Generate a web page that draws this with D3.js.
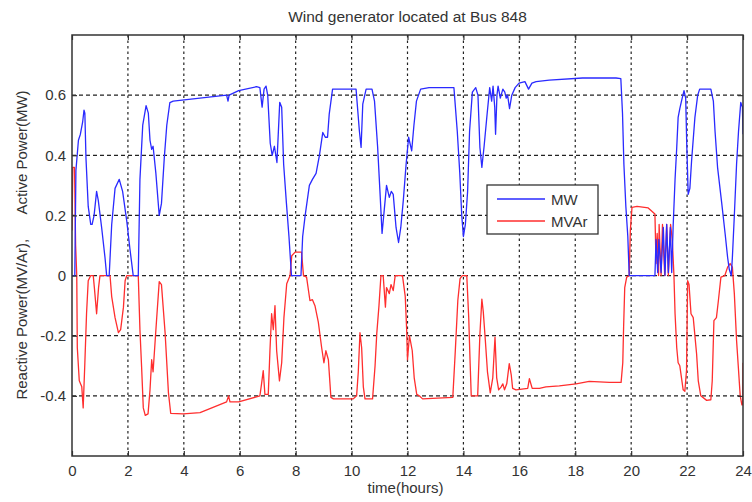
<!DOCTYPE html>
<html>
<head>
<meta charset="utf-8">
<script src="https://cdn.jsdelivr.net/npm/d3@7"></script>
<style>
  html, body { margin: 0; padding: 0; background: #ffffff; }
  svg { display: block; }
  text { font-family: "Liberation Sans", Arial, sans-serif; fill: #333; }
</style>
</head>
<body>
<svg id="chart" width="752" height="502"></svg>
<script>
// ---- data ----
const xTicks = [0, 2, 4, 6, 8, 10, 12, 14, 16, 18, 20, 22, 24];
const yTicks = [-0.4, -0.2, 0, 0.2, 0.4, 0.6];
const seriesNames = ["MW", "MVAr"];

const mwTime = [0,0.1,0.14,0.23,0.3,0.38,0.43,0.46,0.5,0.58,0.67,0.72,0.79,0.88,0.94,1.06,1.18,1.24,1.33,1.42,1.54,1.69,1.81,1.96,2.07,2.19,2.37,2.43,2.53,2.65,2.73,2.79,2.85,2.9,3.0,3.12,3.2,3.3,3.39,3.5,3.62,5.53,5.58,5.62,5.96,6.6,6.72,6.8,6.87,6.94,7.0,7.09,7.16,7.24,7.33,7.43,7.5,7.57,7.67,7.76,7.85,8.19,8.25,8.34,8.49,8.6,8.73,8.85,8.97,9.06,9.14,9.2,9.32,10.16,10.28,10.34,10.4,10.52,10.73,10.82,10.93,11.02,11.09,11.17,11.25,11.35,11.42,11.49,11.59,11.68,11.76,11.85,11.95,12.04,12.15,12.23,12.32,12.47,12.77,13.66,13.78,13.87,13.94,14.0,14.07,14.15,14.22,14.32,14.44,14.52,14.59,14.66,14.74,14.85,14.94,15.01,15.06,15.12,15.15,15.2,15.24,15.32,15.41,15.48,15.53,15.58,15.65,15.73,15.85,15.99,16.2,16.33,16.45,16.6,17.07,18.26,19.46,19.63,19.69,19.74,19.81,19.88,19.93,20.85,20.89,20.95,20.99,21.07,21.15,21.21,21.27,21.33,21.4,21.45,21.5,21.57,21.63,21.68,21.74,21.8,21.89,21.95,21.99,22.04,22.1,22.16,22.28,22.38,22.45,22.85,22.94,23.0,23.09,23.24,23.36,23.45,23.51,23.58,23.62,23.69,23.77,23.84,23.92,23.98,24.0];
const mwValues = [0,0,0.35,0.45,0.47,0.51,0.55,0.54,0.39,0.23,0.17,0.17,0.2,0.28,0.25,0.16,0.06,0,0,0.17,0.29,0.32,0.28,0.18,0.09,0,0,0.32,0.5,0.565,0.54,0.45,0.42,0.43,0.34,0.2,0.24,0.39,0.5,0.575,0.58,0.6,0.58,0.6,0.615,0.628,0.625,0.56,0.62,0.63,0.6,0.44,0.4,0.43,0.376,0.576,0.56,0.37,0.24,0.13,0,0,0.13,0.2,0.3,0.32,0.34,0.4,0.476,0.46,0.46,0.537,0.62,0.62,0.48,0.426,0.57,0.62,0.62,0.58,0.43,0.27,0.14,0.22,0.3,0.26,0.28,0.27,0.16,0.11,0.16,0.25,0.37,0.46,0.415,0.5,0.58,0.62,0.625,0.625,0.48,0.34,0.2,0.13,0.17,0.28,0.48,0.61,0.625,0.6,0.426,0.36,0.43,0.54,0.625,0.58,0.63,0.56,0.47,0.6,0.63,0.59,0.62,0.61,0.59,0.6,0.555,0.6,0.625,0.64,0.645,0.62,0.64,0.645,0.65,0.657,0.657,0.655,0.54,0.37,0.23,0.13,0,0,0.12,0.01,0.12,0.01,0.16,0.0,0.17,0.01,0.16,0.01,0.16,0.32,0.426,0.526,0.555,0.58,0.615,0.59,0.43,0.27,0.29,0.38,0.526,0.6,0.62,0.62,0.58,0.48,0.36,0.24,0.14,0.06,0.02,0,0.06,0.2,0.37,0.48,0.576,0.56,0.47];

const mvarTime = [0,0.03,0.09,0.13,0.17,0.19,0.26,0.35,0.4,0.46,0.52,0.58,0.67,0.76,0.8,0.88,0.95,1.0,1.36,1.42,1.54,1.66,1.74,1.84,1.9,1.96,2.37,2.43,2.49,2.55,2.62,2.72,2.79,2.85,2.9,3.03,3.12,3.2,3.33,3.45,3.53,3.98,4.58,5.53,5.6,5.65,5.96,6.72,6.78,6.84,6.9,7.02,7.08,7.14,7.2,7.26,7.32,7.42,7.5,7.58,7.68,7.8,7.86,7.98,8.21,8.28,8.39,8.51,8.6,8.69,8.81,8.93,9.01,9.08,9.17,9.26,9.35,10.06,10.18,10.24,10.3,10.36,10.42,10.48,10.75,10.84,10.9,10.98,11.05,11.13,11.21,11.25,11.35,11.41,11.49,11.56,11.82,11.92,11.97,12.0,12.07,12.17,12.24,12.33,12.42,12.54,13.62,13.71,13.8,13.88,13.96,14.12,14.19,14.24,14.28,14.51,14.59,14.66,14.71,14.78,14.86,14.96,15.05,15.13,15.19,15.26,15.35,15.41,15.47,15.55,15.64,15.71,15.76,15.88,16.3,16.36,16.46,16.72,16.95,17.43,18.03,18.5,19.22,19.64,19.7,19.73,19.77,19.84,19.93,19.97,20.03,20.21,20.61,20.85,20.89,20.93,20.98,21.0,21.07,21.12,21.2,21.27,21.33,21.41,21.47,21.53,21.57,21.63,21.68,21.74,21.8,21.86,21.92,21.98,22.02,22.07,22.14,22.22,22.34,22.4,22.49,22.7,22.85,22.9,22.96,23.05,23.12,23.21,23.35,23.45,23.54,23.62,23.69,23.77,23.83,23.9,23.96,23.99,24.0];
const mvarValues = [0.15,0.36,0.36,0.1,0,-0.24,-0.35,-0.37,-0.44,-0.29,-0.127,-0.017,0,0,-0.04,-0.127,-0.04,0,0,-0.07,-0.14,-0.19,-0.18,-0.105,-0.017,0,0,-0.18,-0.305,-0.44,-0.465,-0.46,-0.38,-0.28,-0.32,-0.14,-0.02,-0.03,-0.19,-0.39,-0.458,-0.46,-0.456,-0.42,-0.4,-0.42,-0.42,-0.4,-0.36,-0.316,-0.395,-0.395,-0.25,-0.127,-0.18,-0.1,-0.25,-0.35,-0.29,-0.14,-0.027,0,0.066,0.078,0.078,0,-0.005,-0.083,-0.08,-0.1,-0.155,-0.24,-0.29,-0.25,-0.28,-0.405,-0.41,-0.41,-0.4,-0.32,-0.19,-0.24,-0.37,-0.41,-0.41,-0.3,-0.194,-0.1,0,0,-0.105,-0.04,-0.06,-0.03,-0.05,0,0,-0.07,-0.18,-0.28,-0.2,-0.25,-0.34,-0.395,-0.4,-0.41,-0.405,-0.25,-0.083,-0.01,0,0,-0.14,-0.29,-0.4,-0.4,-0.194,-0.078,-0.12,-0.21,-0.32,-0.39,-0.34,-0.205,-0.34,-0.38,-0.37,-0.36,-0.38,-0.36,-0.293,-0.33,-0.375,-0.38,-0.375,-0.343,-0.375,-0.375,-0.37,-0.367,-0.36,-0.352,-0.355,-0.355,-0.29,-0.17,-0.04,-0.005,0,0.15,0.227,0.23,0.225,0.205,0.04,0.14,0,0.17,0,0.17,0,0.17,0,0.17,0.12,0,-0.127,-0.24,-0.29,-0.3,-0.34,-0.38,-0.385,-0.315,-0.017,-0.03,-0.127,-0.14,-0.26,-0.35,-0.4,-0.415,-0.413,-0.35,-0.15,-0.14,-0.083,-0.005,0,0.028,0.04,0.028,-0.06,-0.216,-0.3,-0.4,-0.43,-0.43,-0.29];

// ---- layout ----
const W = 752, H = 502;
const margin = { left: 72, right: 9, top: 35, bottom: 46 };
const pw = W - margin.left - margin.right;
const ph = H - margin.top - margin.bottom;

const svg = d3.select("#chart");
const g = svg.append("g").attr("transform", `translate(${margin.left},${margin.top})`);

const x = d3.scaleLinear().domain([0, 24]).range([0, pw]);
const y = d3.scaleLinear().domain([-0.6, 0.8]).range([ph, 0]);

// white plot background
g.append("rect").attr("width", pw).attr("height", ph).attr("fill", "#fff");

// grid
g.append("g").selectAll("line").data(xTicks.filter(d => d > 0 && d < 24)).join("line")
  .attr("x1", d => x(d)).attr("x2", d => x(d)).attr("y1", 0).attr("y2", ph)
  .attr("stroke", "#222").attr("stroke-width", 1.2).attr("stroke-dasharray", "2.5,3");
g.append("g").selectAll("line").data(yTicks).join("line")
  .attr("x1", 0).attr("x2", pw).attr("y1", d => y(d)).attr("y2", d => y(d))
  .attr("stroke", "#222").attr("stroke-width", 1.2).attr("stroke-dasharray", "4,3");

// clip
svg.append("defs").append("clipPath").attr("id", "clip")
  .append("rect").attr("width", pw).attr("height", ph);

const mwData = mwTime.map((t, i) => [t, mwValues[i]]);
const mvarData = mvarTime.map((t, i) => [t, mvarValues[i]]);
const line = d3.line().x(d => x(d[0])).y(d => y(d[1]));

const colors = { MW: "#2a2aff", MVAr: "#ff2e2e" };

g.append("path").datum(mvarData).attr("clip-path", "url(#clip)")
  .attr("d", line).attr("fill", "none").attr("stroke", colors.MVAr).attr("stroke-width", 1.3)
  .attr("stroke-linejoin", "round");
g.append("path").datum(mwData).attr("clip-path", "url(#clip)")
  .attr("d", line).attr("fill", "none").attr("stroke", colors.MW).attr("stroke-width", 1.3)
  .attr("stroke-linejoin", "round");

// axes (MATLAB-style inward ticks on all sides)
const fmtY = d => d === 0 ? "0" : d3.format(".1f")(d).replace("−", "-");
const axB = g.append("g").attr("transform", `translate(0,${ph})`)
  .call(d3.axisBottom(x).tickValues(xTicks).tickSizeInner(-5).tickSizeOuter(0).tickPadding(9).tickFormat(d3.format("d")));
const axL = g.append("g")
  .call(d3.axisLeft(y).tickValues(yTicks).tickSizeInner(-5).tickSizeOuter(0).tickPadding(6).tickFormat(fmtY));
const axT = g.append("g")
  .call(d3.axisTop(x).tickValues(xTicks).tickSizeInner(-5).tickSizeOuter(0).tickFormat(""));
const axR = g.append("g").attr("transform", `translate(${pw},0)`)
  .call(d3.axisRight(y).tickValues(yTicks).tickSizeInner(-5).tickSizeOuter(0).tickFormat(""));
[axB, axL, axT, axR].forEach(a => {
  a.select(".domain").remove();
  a.selectAll(".tick line").attr("stroke", "#333").attr("stroke-width", 1.2);
  a.selectAll(".tick text").attr("fill", "#333").style("font-size", "15px")
    .style("font-family", "'Liberation Sans', Arial, sans-serif");
});

// box
g.append("rect").attr("width", pw).attr("height", ph)
  .attr("fill", "none").attr("stroke", "#333").attr("stroke-width", 1.5);

// title and labels
svg.append("text").attr("x", margin.left + pw / 2).attr("y", 22)
  .attr("text-anchor", "middle").style("font-size", "15.5px")
  .text("Wind generator located at Bus 848");
svg.append("text").attr("x", margin.left + pw / 2 - 2).attr("y", 493)
  .attr("text-anchor", "middle").style("font-size", "15px")
  .text("time(hours)");
svg.append("text")
  .attr("transform", `translate(27,245) rotate(-90)`)
  .attr("text-anchor", "middle").style("font-size", "15px")
  .style("white-space", "pre")
  .text("Reactive Power(MV/Ar),      Active Power(MW)");

// legend
const lg = svg.append("g").attr("transform", "translate(487,185)");
lg.append("rect").attr("width", 111).attr("height", 49)
  .attr("fill", "#fff").attr("stroke", "#333").attr("stroke-width", 1.3);
seriesNames.forEach((name, i) => {
  const yy = 14 + i * 22;
  lg.append("line").attr("x1", 10).attr("x2", 58).attr("y1", yy).attr("y2", yy)
    .attr("stroke", colors[name]).attr("stroke-width", 1.3);
  lg.append("text").attr("x", 64).attr("y", yy + 6).style("font-size", "15px").text(name);
});
</script>
</body>
</html>
